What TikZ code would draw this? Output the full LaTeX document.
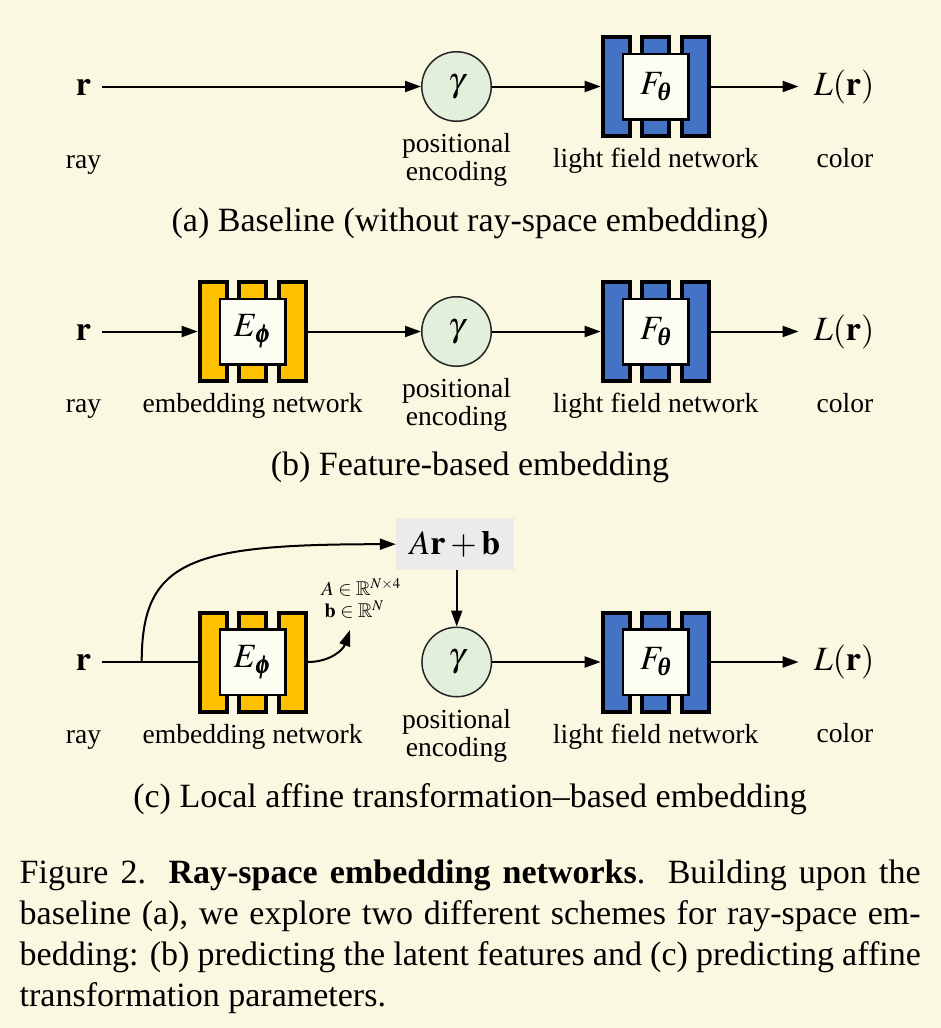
\documentclass[tikz,border=0pt]{standalone}
\usepackage{amsmath,amssymb}
\usepackage{mathptmx}
\usepackage{bm}
\usepackage{fontspec}
\setmainfont{Liberation Serif}
\usetikzlibrary{arrows.meta}
\definecolor{bgcream}{RGB}{250,248,225}
\definecolor{netblue}{RGB}{68,114,196}
\definecolor{netyellow}{RGB}{255,192,0}
\definecolor{pegreen}{RGB}{226,239,218}
\definecolor{affgray}{RGB}{235,235,235}
\definecolor{innerw}{RGB}{253,253,243}
\newcommand\bthet{\text{\bfseries\itshape θ}}
\tikzset{
  barsty/.style={draw=black, line width=4pt},
  innersq/.style={draw=black, line width=2.5pt, fill=innerw, minimum size=65.5pt, inner sep=0pt,
    font=\fontsize{34}{40}\selectfont},
  pe/.style={circle, draw=black!85, line width=1.5pt, fill=pegreen, minimum size=69.5pt, inner sep=0pt,
    font=\fontsize{34}{40}\selectfont},
  mth/.style={font=\fontsize{34}{40}\selectfont, anchor=base, inner ysep=0pt},
  lbl/.style={font=\fontsize{27.6}{30}\selectfont, inner sep=0pt, anchor=base},
  subcap/.style={font=\fontsize{34}{40}\selectfont, inner sep=0pt, anchor=base},
  ln/.style={draw=black, line width=2pt},
  arr/.style={ln, -{Triangle[length=16pt,width=11pt]}},
}
% network block: three bars + inner square; named coordinates #1-w and #1-e at the outer edges
\newcommand\netblk[4]{%
  \begin{scope}[shift={#2}]
    \draw[barsty, fill=#3] (-53,-49.5) rectangle (-26,49.5);
    \draw[barsty, fill=#3] (-13.5,-49.5) rectangle (13.5,49.5);
    \draw[barsty, fill=#3] (26,-49.5) rectangle (53,49.5);
    \node[innersq] (#1) at (0,0) {#4};
    \coordinate (#1-w) at (-55,0);
    \coordinate (#1-e) at (55,0);
  \end{scope}}
\begin{document}
\begin{tikzpicture}[x=1pt,y=-1pt]
\useasboundingbox (0,0) rectangle (941,1028);
\fill[bgcream] (0,0) rectangle (941,1028);

% ---------- (a) ----------
\node[mth, inner xsep=11pt] (ra) at (83.5,95) {$\mathbf{r}$};
\node[pe] (ga) at (456.5,86.5) {$\gamma$};
\netblk{fa}{(655.7,86.5)}{netblue}{$F_{\bthet}$}
\node[mth, inner xsep=15pt] (La) at (844,95) {$L(\mathbf{r})$};
\draw[arr] (ra.east |- ga.west) -- (ga.west);
\draw[arr] (ga.east) -- (fa-w);
\draw[arr] (fa-e) -- (La.west |- fa-e);
\node[lbl] (raya) at (83.5,168.3) {ray};
\node[lbl] (posa) at (456.5,152.5) {positional};
\node[lbl] (enca) at (456.5,180.5) {encoding};
\node[lbl] (lfna) at (655.7,167.5) {light field network};
\node[lbl] (cola) at (845,167) {color};
\node[subcap] (capa) at (470,231.7) {(a) Baseline (without ray-space embedding)};

% ---------- (b) ----------
\node[mth, inner xsep=11pt] (rb) at (83.5,340) {$\mathbf{r}$};
\netblk{eb}{(252.7,331.5)}{netyellow}{$E_{\bm{\phi}}$}
\node[pe] (gb) at (456.5,331.5) {$\gamma$};
\netblk{fb}{(655.7,331.5)}{netblue}{$F_{\bthet}$}
\node[mth, inner xsep=15pt] (Lb) at (844,340) {$L(\mathbf{r})$};
\draw[arr] (rb.east |- eb-w) -- (eb-w);
\draw[arr] (eb-e) -- (gb.west);
\draw[arr] (gb.east) -- (fb-w);
\draw[arr] (fb-e) -- (Lb.west |- fb-e);
\node[lbl] (rayb) at (83.5,412.5) {ray};
\node[lbl] (embb) at (252.7,412.5) {embedding network};
\node[lbl] (posb) at (456.5,397) {positional};
\node[lbl] (encb) at (456.5,425) {encoding};
\node[lbl] (lfnb) at (655.7,412.5) {light field network};
\node[lbl] (colb) at (845,412) {color};
\node[subcap] (capb) at (470,475.7) {(b) Feature-based embedding};

% ---------- (c) ----------
\node[mth, inner xsep=11pt] (rc) at (83.5,670.5) {$\mathbf{r}$};
\netblk{ec}{(252.7,662)}{netyellow}{$E_{\bm{\phi}}$}
\node[pe] (gc) at (456.7,662) {$\gamma$};
\netblk{fc}{(655.7,662)}{netblue}{$F_{\bthet}$}
\node[mth, inner xsep=15pt] (Lc) at (844,670.5) {$L(\mathbf{r})$};
\node[fill=affgray, minimum width=118pt, minimum height=51.7pt, inner sep=0pt,
      font=\fontsize{34}{40}\selectfont] (aff) at (455,544.2) {$A\mathbf{r}+\mathbf{b}$};
\coordinate (split) at (141.7,662);
\coordinate (ptip) at (350,630);
\draw[ln] (rc.east |- ec-w) -- (ec-w);
\draw[arr] (split) .. controls (141.7,560) and (190,544.2) .. (aff.west);
\draw[arr] (ec-e) .. controls (330,662) and (343,650) .. (ptip);
\draw[arr] (aff.south -| gc.north) -- (gc.north);
\draw[arr] (gc.east) -- (fc-w);
\draw[arr] (fc-e) -- (Lc.west |- fc-e);
\node[font=\fontsize{20}{22.5}\selectfont, align=left, inner sep=0pt, anchor=north west] (params) at (321.5,578)
  {$A\in\mathbb{R}^{N\times 4}$\\ \hspace*{3pt}$\mathbf{b}\in\mathbb{R}^{N}$};
\node[lbl] (rayc) at (83.5,743) {ray};
\node[lbl] (embc) at (252.7,743) {embedding network};
\node[lbl] (posc) at (456.5,728) {positional};
\node[lbl] (encc) at (456.5,756) {encoding};
\node[lbl] (lfnc) at (655.7,743) {light field network};
\node[lbl] (colc) at (845,742.5) {color};
\node[subcap] (capc) at (470,807.7) {(c) Local affine transformation--based embedding};

% ---------- figure caption ----------
\node[inner sep=0pt, anchor=base west] (figcap) at (19.5,883.3)
 {\parbox[t]{901pt}{\fontsize{34}{41.2}\selectfont
 Figure 2. \textbf{Ray-space embedding networks}. Building upon the\linebreak
 baseline (a), we explore two different schemes for ray-space em-\linebreak
 bedding: (b) predicting the latent features and (c) predicting affine\linebreak
 transformation parameters.}};
\end{tikzpicture}
\end{document}
